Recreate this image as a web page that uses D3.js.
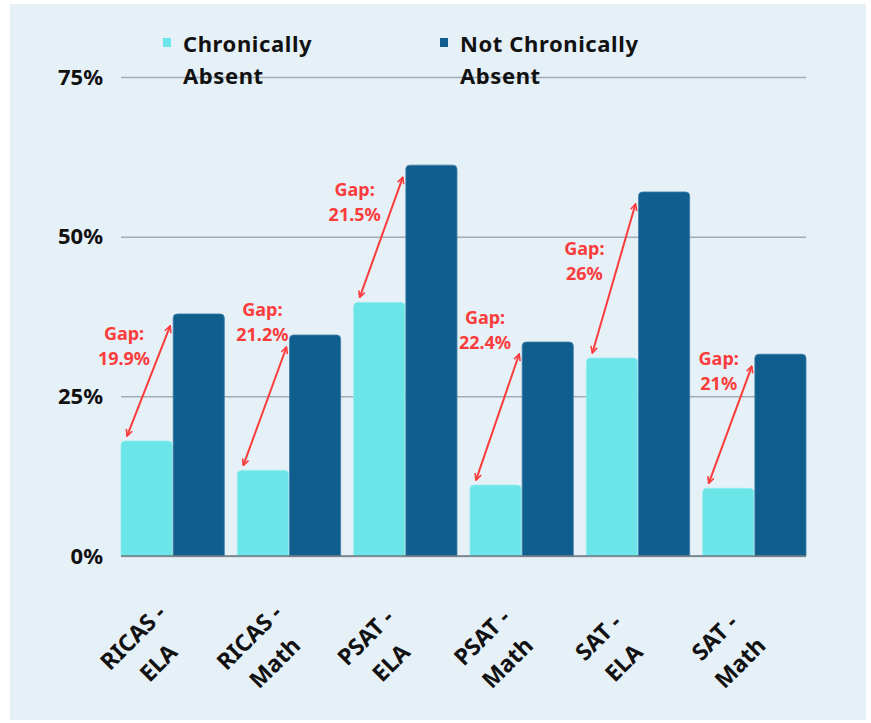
<!DOCTYPE html>
<html>
<head>
<meta charset="utf-8">
<script src="https://cdn.jsdelivr.net/npm/d3@7"></script>
<style>
  body { margin: 0; background: #ffffff; }
  text { font-family: 'Noto Sans', sans-serif; font-weight: 700; }
</style>
</head>
<body>
<div id="chart"></div>
<script>
// data
var categories = [['RICAS -', 'ELA'], ['RICAS -', 'Math'], ['PSAT -', 'ELA'], ['PSAT -', 'Math'], ['SAT -', 'ELA'], ['SAT -', 'Math']];
var seriesNames = ['Chronically Absent', 'Not Chronically Absent'];
var chronic = [18.0, 13.4, 39.7, 11.1, 31.0, 10.6];
var notChronic = [37.9, 34.6, 61.2, 33.5, 57.0, 31.6];
var gapLabels = ['19.9%', '21.2%', '21.5%', '22.4%', '26%', '21%'];
// where each gap note sits: y in % of axis, x shift from the group start
var gapLabelY = [33.5, 37.3, 56.1, 36.0, 46.8, 29.6];
var gapLabelDx = [3, 25, 1, 15, -2, 16];
var yTicks = [0, 25, 50, 75];

var colors = ['#6ce5e8', '#105e8e'];
var red = '#fb3c3c';

var width = 871, height = 723;

var svg = d3.select('#chart').append('svg')
    .attr('width', width)
    .attr('height', height);

svg.append('defs').append('marker')
    .attr('id', 'head')
    .attr('viewBox', '0 0 10 10')
    .attr('refX', 9).attr('refY', 5)
    .attr('markerWidth', 8).attr('markerHeight', 8)
    .attr('markerUnits', 'userSpaceOnUse')
    .attr('orient', 'auto-start-reverse')
    .append('path')
    .attr('d', 'M1,1 L9,5 L1,9')
    .attr('fill', 'none')
    .attr('stroke', red)
    .attr('stroke-width', 2);

svg.append('rect')
    .attr('x', 10).attr('y', 4)
    .attr('width', 856).attr('height', 716)
    .attr('fill', '#e6f0f7');

var x0 = d3.scaleBand()
    .domain(d3.range(categories.length))
    .range([121, 806])
    .paddingInner(0.112)
    .paddingOuter(0);

var x1 = d3.scaleBand()
    .domain([0, 1])
    .range([0, x0.bandwidth()])
    .paddingInner(0.02);

var y = d3.scaleLinear()
    .domain([0, 75])
    .range([556, 77]);

// grid + y labels
var yAxis = d3.axisLeft(y)
    .tickValues(yTicks)
    .tickSize(-(806 - 121))
    .tickPadding(18)
    .tickFormat(function (d) { return d + '%'; });

var gy = svg.append('g')
    .attr('transform', 'translate(121,0)')
    .call(yAxis);
gy.select('.domain').remove();
gy.selectAll('.tick line')
    .attr('stroke', '#a2acb4')
    .attr('stroke-width', 1.5);
gy.selectAll('.tick text')
    .attr('fill', '#111')
    .style('font-size', '22px');

// bars, with round top corners
function barPath(x, yTop, w, yBottom, r) {
    r = Math.min(r, (yBottom - yTop));
    return 'M' + x + ',' + yBottom +
        'V' + (yTop + r) +
        'Q' + x + ',' + yTop + ' ' + (x + r) + ',' + yTop +
        'H' + (x + w - r) +
        'Q' + (x + w) + ',' + yTop + ' ' + (x + w) + ',' + (yTop + r) +
        'V' + yBottom + 'Z';
}

var rows = categories.map(function (c, i) { return [chronic[i], notChronic[i]]; });

var groups = svg.selectAll('g.grp')
    .data(rows)
    .enter()
    .append('g')
    .attr('class', 'grp')
    .attr('transform', function (d, i) { return 'translate(' + x0(i) + ',0)'; });

groups.selectAll('path')
    .data(function (d) { return d; })
    .enter()
    .append('path')
    .attr('d', function (d, j) { return barPath(x1(j), y(d), x1.bandwidth(), y(0), 4); })
    .attr('fill', function (d, j) { return colors[j]; })
    .attr('stroke', function (d, j) { return j ? '#3f7fa8' : '#8eeef0'; })
    .attr('stroke-width', 0.8);

// baseline over the bars
svg.append('line')
    .attr('x1', 121).attr('x2', 806)
    .attr('y1', y(0)).attr('y2', y(0))
    .attr('stroke', '#6f7a82')
    .attr('stroke-width', 1.5);

// gap arrows
groups.append('line')
    .attr('x1', function (d) { return x1(0) + 6; })
    .attr('y1', function (d) { return y(d[0]) - 5; })
    .attr('x2', function (d) { return x1(1) - 3; })
    .attr('y2', function (d) { return y(d[1]) + 12; })
    .attr('stroke', red)
    .attr('stroke-width', 2)
    .attr('marker-start', 'url(#head)')
    .attr('marker-end', 'url(#head)');

var notes = groups.append('text')
    .attr('text-anchor', 'middle')
    .attr('fill', red)
    .style('font-size', '18px');
notes.append('tspan')
    .attr('x', function (d, i) { return gapLabelDx[i]; })
    .attr('y', function (d, i) { return y(gapLabelY[i]) - 2; })
    .text('Gap:');
notes.append('tspan')
    .attr('x', function (d, i) { return gapLabelDx[i]; })
    .attr('y', function (d, i) { return y(gapLabelY[i]) + 23; })
    .text(function (d, i) { return gapLabels[i]; });

// x labels, two lines at -45 degrees
var xl = svg.selectAll('g.xl')
    .data(categories)
    .enter()
    .append('g')
    .attr('class', 'xl')
    .attr('transform', function (d, i) {
        return 'translate(' + (x0(i) + x0.bandwidth() / 2 - 34) + ',643) rotate(-45)';
    });
xl.append('text')
    .attr('text-anchor', 'middle')
    .attr('fill', '#111')
    .style('font-size', '23px')
    .text(function (d) { return d[0]; });
xl.append('text')
    .attr('text-anchor', 'middle')
    .attr('y', 36)
    .attr('fill', '#111')
    .style('font-size', '23px')
    .text(function (d) { return d[1]; });

// legend
var legendX = [163, 440];
var leg = svg.selectAll('g.leg')
    .data(seriesNames)
    .enter()
    .append('g')
    .attr('class', 'leg')
    .attr('transform', function (d, i) { return 'translate(' + legendX[i] + ',0)'; });
leg.append('rect')
    .attr('x', 0).attr('y', 38)
    .attr('width', 8).attr('height', 9)
    .attr('fill', function (d, i) { return colors[i]; });
var lt = leg.append('text')
    .attr('fill', '#111')
    .style('font-size', '22px')
    .style('letter-spacing', '0.6px');
lt.append('tspan')
    .attr('x', 20).attr('y', 52)
    .text(function (d) { return d.replace(' Absent', ''); });
lt.append('tspan')
    .attr('x', 20).attr('y', 84)
    .text('Absent');
</script>
</body>
</html>
